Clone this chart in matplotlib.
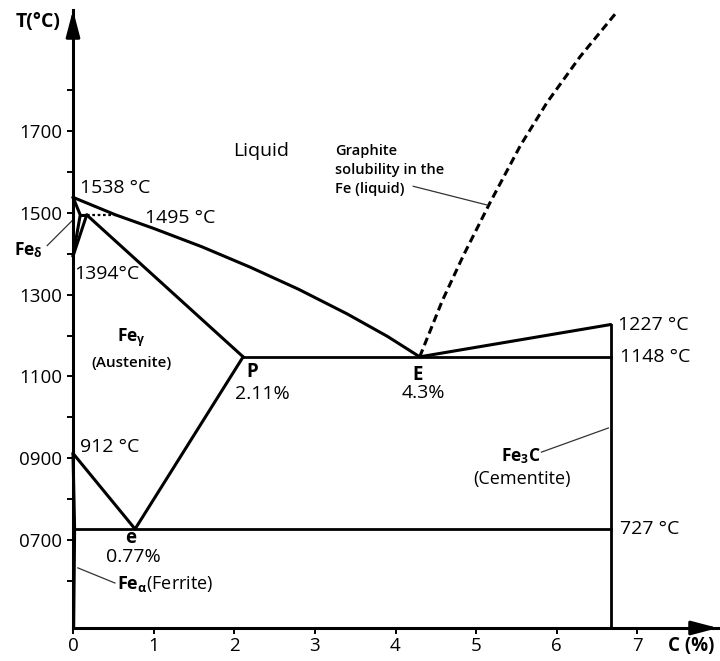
import matplotlib.pyplot as plt

plt.rcParams['font.family'] = ['Open Sans', 'DejaVu Sans']
plt.rcParams['mathtext.fontset'] = 'custom'
plt.rcParams['mathtext.rm'] = 'Open Sans'
plt.rcParams['mathtext.bf'] = 'Open Sans:bold'
plt.rcParams['mathtext.it'] = 'Open Sans:italic'

# Key points of the Fe-C diagram: carbon (wt %) and temperature (°C)
T_MELT = 1538
T_PERITECTIC = 1495
T_DELTA_GAMMA = 1394
T_ALPHA_GAMMA = 912
T_EUTECTIC = 1148
T_EUTECTOID = 727
T_FE3C_MELT = 1227

C_DELTA = 0.09
C_PERITECTIC = 0.17
C_PERI_LIQUID = 0.53
C_EUTECTOID = 0.77
C_GAMMA_MAX = 2.11
C_EUTECTIC = 4.3
C_FE3C = 6.67

# liquidus from pure iron down to the eutectic point
liquidus_c = [0, 0.53, 1.0, 1.6, 2.2, 2.8, 3.4, 3.9, 4.3]
liquidus_t = [1538, 1495, 1462, 1417, 1367, 1313, 1253, 1198, 1148]

# graphite solubility in liquid iron (dashed)
graphite_c = [4.3, 4.58, 4.84, 5.17, 5.55, 5.88, 6.29, 6.74]
graphite_t = [1148, 1285, 1395, 1524, 1665, 1770, 1882, 1990]

# ferrite solubility limit
ferrite_c = [0, 0.02, 0.008]
ferrite_t = [912, 727, 485]

x_ticks = [0, 1, 2, 3, 4, 5, 6, 7]
y_major = [700, 900, 1100, 1300, 1500, 1700]
y_labels = ['0700', '0900', '1100', '1300', '1500', '1700']
y_minor = [600, 800, 1000, 1200, 1400, 1600, 1800]

X_MAX = 8.0
T_MIN, T_MAX = 485, 1996

fig = plt.figure(figsize=(7.2, 6.61), dpi=100)
ax = fig.add_axes([73 / 720, 33 / 661, 645 / 720, 618 / 661])
ax.set_xlim(0, X_MAX)
ax.set_ylim(T_MIN, T_MAX)

for side in ['top', 'right']:
    ax.spines[side].set_visible(False)
for side in ['left', 'bottom']:
    ax.spines[side].set_linewidth(2.2)

ax.set_xticks(x_ticks)
ax.set_yticks(y_major)
ax.set_yticklabels(y_labels)
ax.set_yticks(y_minor, minor=True)
ax.tick_params(which='both', direction='out', length=4.3, width=1.4, labelsize=13.5)
ax.tick_params(axis='x', pad=2)

# axis arrowheads
arrow = dict(arrowstyle='-|>,head_length=1.6,head_width=0.42', color='black', lw=2.2,
             shrinkA=0, shrinkB=0)
ax.annotate('', xy=(0, T_MAX), xytext=(0, T_MAX - 60), arrowprops=arrow, annotation_clip=False)
ax.annotate('', xy=(X_MAX, T_MIN), xytext=(X_MAX - 0.3, T_MIN), arrowprops=arrow,
            annotation_clip=False)

lw = 2.2
line = dict(color='black', lw=lw, solid_capstyle='round', solid_joinstyle='round', clip_on=False)

# liquid boundaries
ax.plot(liquidus_c, liquidus_t, **line)
ax.plot([C_EUTECTIC, C_FE3C], [T_EUTECTIC, T_FE3C_MELT], **line)
ax.plot(graphite_c, graphite_t, color='black', lw=lw, ls=(0, (2.6, 1.5)), clip_on=False)

# delta ferrite corner
ax.plot([0, C_DELTA, 0], [T_MELT, T_PERITECTIC, T_DELTA_GAMMA], **line)
ax.plot([C_PERITECTIC, 0], [T_PERITECTIC, T_DELTA_GAMMA], **line)
ax.plot([C_DELTA, C_PERITECTIC], [T_PERITECTIC, T_PERITECTIC], **line)
ax.plot([C_PERITECTIC, C_PERI_LIQUID], [T_PERITECTIC, T_PERITECTIC], color='black',
        lw=1.6, ls=(0, (1.2, 1.2)))

# austenite field
ax.plot([C_PERITECTIC, C_GAMMA_MAX], [T_PERITECTIC, T_EUTECTIC], **line)
ax.plot([0, C_EUTECTOID, C_GAMMA_MAX], [T_ALPHA_GAMMA, T_EUTECTOID, T_EUTECTIC], **line)
ax.plot(ferrite_c, ferrite_t, **line)

# eutectic / eutectoid isotherms and cementite
ax.plot([C_GAMMA_MAX, C_FE3C], [T_EUTECTIC, T_EUTECTIC], color='black', lw=2.0)
ax.plot([0, C_FE3C], [T_EUTECTOID, T_EUTECTOID], color='black', lw=2.0)
ax.plot([C_FE3C, C_FE3C], [T_MIN, T_FE3C_MELT], color='black', lw=2.0, clip_on=False)

# labels
fs = 14
txt = dict(fontsize=fs, va='center')
ax.text(-0.43, 1967, 'T(°C)', fontsize=14, fontweight='bold', ha='center', va='center')
ax.text(7.38, 440, 'C (%)', fontsize=13.5, fontweight='bold', ha='left', va='center', clip_on=False)

ax.text(2.33, 1651, 'Liquid', ha='center', **txt)
ax.text(3.25, 1605, 'Graphite\nsolubility in the\nFe (liquid)', fontsize=10.5,
        fontweight='semibold', ha='left', va='center', linespacing=1.45)
ax.plot([4.22, 5.14], [1565, 1519], color='#333333', lw=0.9)

ax.text(0.09, 1560, f'{T_MELT} °C', ha='left', **txt)
ax.text(0.89, 1487, f'{T_PERITECTIC} °C', ha='left', **txt)
ax.text(0.02, 1350, f'{T_DELTA_GAMMA}°C', ha='left', **txt)
ax.text(-0.55, 1409, r'$\mathbf{Fe}_{\mathbf{δ}}$', fontsize=12.5, ha='center', va='center')
ax.plot([-0.32, -0.01], [1420, 1481], color='#333333', lw=0.9, clip_on=False)

ax.text(0.72, 1194, r'$\mathbf{Fe}_{\mathbf{γ}}$', fontsize=12.5, ha='center', va='center')
ax.text(0.73, 1133, '(Austenite)', fontsize=11, fontweight='semibold', ha='center', va='center')

ax.text(2.22, T_EUTECTIC - 37, 'P', fontsize=13.5, fontweight='bold', ha='center', va='center')
ax.text(2.35, T_EUTECTIC - 90, f'{C_GAMMA_MAX}%', ha='center', **txt)
ax.text(4.27, T_EUTECTIC - 44, 'E', fontsize=13.5, fontweight='bold', ha='center', va='center')
ax.text(4.34, T_EUTECTIC - 88, f'{C_EUTECTIC}%', ha='center', **txt)

ax.text(6.76, T_FE3C_MELT, f'{T_FE3C_MELT} °C', ha='left', **txt)
ax.text(6.78, T_EUTECTIC, f'{T_EUTECTIC} °C', ha='left', **txt)
ax.text(6.78, T_EUTECTOID, f'{T_EUTECTOID} °C', ha='left', **txt)

ax.text(5.55, 905, r'$\mathbf{Fe}_{\mathbf{3}}\mathbf{C}$', fontsize=12.5, ha='center', va='center')
ax.plot([5.81, 6.64], [915, 974], color='#333333', lw=0.9)
ax.text(5.57, 849, '(Cementite)', fontsize=13, ha='center', va='center')

ax.text(0.09, T_ALPHA_GAMMA + 15, f'{T_ALPHA_GAMMA} °C', ha='left', **txt)
ax.text(0.71, T_EUTECTOID - 22, 'e', fontsize=13.5, fontweight='bold', ha='center', va='center')
ax.text(0.75, T_EUTECTOID - 68, f'{C_EUTECTOID}%', ha='center', **txt)

ax.text(0.55, 592, r'$\mathbf{Fe}_{\mathbf{α}}$(Ferrite)', fontsize=13, ha='left', va='center')
ax.plot([0.06, 0.52], [632, 595], color='#333333', lw=0.9)

fig.savefig('out.png', dpi=100)
